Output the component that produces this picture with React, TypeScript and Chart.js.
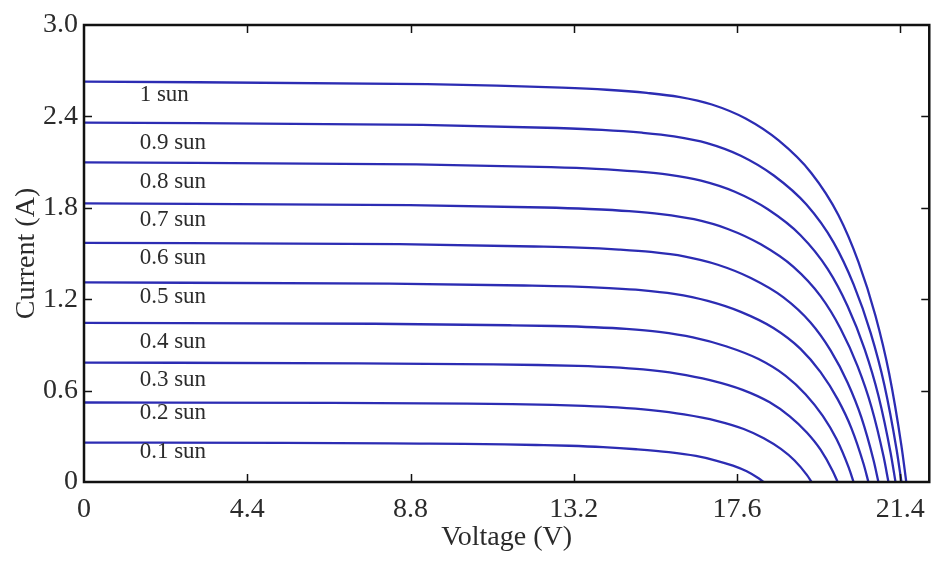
import React, { useEffect, useRef } from "react";
import { Chart, registerables } from "chart.js";

Chart.register(...registerables);

// Tick values / labels (the last voltage tick sits at 22.0 but is printed "21.4" in the original)
const xTickValues = [0, 4.4, 8.8, 13.2, 17.6, 22.0];
const xTickLabels = ["0", "4.4", "8.8", "13.2", "17.6", "21.4"];
const yTickValues = [0, 0.6, 1.2, 1.8, 2.4, 3.0];
const yTickLabels = ["0", "0.6", "1.2", "1.8", "2.4", "3.0"];

// Curve labels
const sunLabels = ["1 sun", "0.9 sun", "0.8 sun", "0.7 sun", "0.6 sun", "0.5 sun", "0.4 sun", "0.3 sun", "0.2 sun", "0.1 sun"];
const labelCurrents = [2.54, 2.225, 1.969, 1.719, 1.47, 1.213, 0.918, 0.668, 0.451, 0.195];
const labelVoltage = 1.5;

// I-V curves: [voltage (V), current (A)]
const sun10 = [[0, 2.628], [9.25, 2.612], [12.88, 2.589], [14.09, 2.575], [15.17, 2.554], [16.03, 2.528], [16.92, 2.478], [17.83, 2.386], [18.72, 2.242], [19.6, 2.029], [20.33, 1.753], [20.87, 1.445], [21.33, 1.091], [21.7, 0.71], [22.03, 0.237], [22.16, 0]];
const sun09 = [[0, 2.359], [9.12, 2.345], [12.75, 2.324], [13.96, 2.312], [15.04, 2.293], [15.9, 2.269], [16.79, 2.225], [17.7, 2.142], [18.59, 2.012], [19.47, 1.821], [20.2, 1.573], [20.74, 1.297], [21.2, 0.979], [21.57, 0.637], [21.9, 0.212], [22.03, 0]];
const sun08 = [[0, 2.098], [8.96, 2.085], [12.59, 2.067], [13.8, 2.056], [14.88, 2.039], [15.74, 2.018], [16.63, 1.978], [17.54, 1.905], [18.43, 1.79], [19.31, 1.62], [20.04, 1.399], [20.58, 1.154], [21.04, 0.871], [21.41, 0.566], [21.74, 0.189], [21.87, 0]];
const sun07 = [[0, 1.829], [8.77, 1.818], [12.4, 1.802], [13.61, 1.792], [14.69, 1.778], [15.55, 1.759], [16.44, 1.725], [17.35, 1.661], [18.24, 1.56], [19.12, 1.412], [19.85, 1.22], [20.39, 1.006], [20.85, 0.759], [21.22, 0.494], [21.55, 0.165], [21.68, 0]];
const sun06 = [[0, 1.57], [8.5, 1.561], [12.13, 1.546], [13.34, 1.539], [14.42, 1.526], [15.28, 1.51], [16.17, 1.481], [17.08, 1.426], [17.97, 1.339], [18.85, 1.212], [19.58, 1.047], [20.12, 0.864], [20.58, 0.652], [20.95, 0.424], [21.28, 0.141], [21.41, 0]];
const sun05 = [[0, 1.31], [8.23, 1.302], [11.86, 1.29], [13.07, 1.284], [14.15, 1.273], [15.01, 1.26], [15.9, 1.235], [16.81, 1.189], [17.7, 1.117], [18.58, 1.011], [19.31, 0.874], [19.85, 0.721], [20.31, 0.544], [20.68, 0.354], [21.01, 0.118], [21.14, 0]];
const sun04 = [[0, 1.045], [7.83, 1.039], [11.46, 1.029], [12.67, 1.024], [13.75, 1.016], [14.61, 1.005], [15.5, 0.985], [16.41, 0.949], [17.3, 0.891], [18.18, 0.807], [18.91, 0.697], [19.45, 0.575], [19.91, 0.434], [20.28, 0.282], [20.61, 0.094], [20.74, 0]];
const sun03 = [[0, 0.784], [7.4, 0.779], [11.03, 0.772], [12.24, 0.768], [13.32, 0.762], [14.18, 0.754], [15.07, 0.739], [15.98, 0.712], [16.87, 0.669], [17.75, 0.605], [18.48, 0.523], [19.02, 0.431], [19.48, 0.325], [19.85, 0.212], [20.18, 0.071], [20.31, 0]];
const sun02 = [[0, 0.522], [6.7, 0.519], [10.33, 0.514], [11.54, 0.511], [12.62, 0.506], [13.48, 0.5], [14.37, 0.49], [15.28, 0.472], [16.17, 0.444], [17.05, 0.402], [17.78, 0.348], [18.32, 0.287], [18.78, 0.217], [19.15, 0.141], [19.48, 0.047], [19.61, 0]];
const sun01 = [[0, 0.259], [5.41, 0.257], [9.04, 0.252], [10.25, 0.25], [11.33, 0.247], [12.19, 0.243], [13.08, 0.238], [13.99, 0.229], [14.88, 0.215], [15.76, 0.196], [16.49, 0.171], [17.03, 0.141], [17.49, 0.107], [17.86, 0.07], [18.19, 0.023], [18.32, 0]];

const curves = [sun10, sun09, sun08, sun07, sun06, sun05, sun04, sun03, sun02, sun01];

const LINE_COLOR = "#2c2cb3";
const TEXT_COLOR = "#2b2b2b";
const FONT = '"Liberation Serif", "Times New Roman", serif';

const framePlugin = {
  id: "frameAndLabels",
  afterDatasetsDraw(chart: any) {
    const { ctx, chartArea } = chart;
    const xs = chart.scales.x;
    const ys = chart.scales.y;
    const { left, right, top, bottom } = chartArea;
    ctx.save();
    // curve labels
    ctx.font = `23px ${FONT}`;
    ctx.fillStyle = TEXT_COLOR;
    ctx.textAlign = "left";
    ctx.textBaseline = "middle";
    sunLabels.forEach((t, i) => {
      ctx.fillText(t, xs.getPixelForValue(labelVoltage), ys.getPixelForValue(labelCurrents[i]));
    });
    // inward ticks
    ctx.strokeStyle = "#111";
    ctx.lineWidth = 1.5;
    const tl = 8;
    ctx.beginPath();
    xs.ticks.forEach((t: any) => {
      if (t.value <= xs.min || t.value >= xs.max) return;
      const px = Math.round(xs.getPixelForValue(t.value)) + 0.5;
      ctx.moveTo(px, bottom);
      ctx.lineTo(px, bottom - tl);
      ctx.moveTo(px, top);
      ctx.lineTo(px, top + tl);
    });
    ys.ticks.forEach((t: any) => {
      if (t.value <= ys.min || t.value >= ys.max) return;
      const py = Math.round(ys.getPixelForValue(t.value)) + 0.5;
      ctx.moveTo(left, py);
      ctx.lineTo(left + tl, py);
      ctx.moveTo(right, py);
      ctx.lineTo(right - tl, py);
    });
    ctx.stroke();
    // frame
    ctx.strokeStyle = "#111";
    ctx.lineWidth = 2.5;
    ctx.strokeRect(left, top, right - left, bottom - top);
    ctx.restore();
  },
};

export default function App() {
  const ref = useRef<HTMLCanvasElement | null>(null);

  useEffect(() => {
    if (!ref.current) return;
    const chart = new Chart(ref.current, {
      type: "line",
      data: {
        datasets: curves.map((c, i) => ({
          label: sunLabels[i],
          data: c.map(([v, a]) => ({ x: v, y: a })),
          borderColor: LINE_COLOR,
          borderWidth: 2.3,
          pointRadius: 0,
          fill: false,
          cubicInterpolationMode: "monotone" as const,
        })),
      },
      options: {
        animation: false,
        responsive: false,
        devicePixelRatio: 1,
        layout: { padding: { top: 25, right: 5, left: 0, bottom: 0 } },
        plugins: { legend: { display: false }, tooltip: { enabled: false } },
        scales: {
          x: {
            type: "linear",
            min: 0,
            max: 22.78,
            afterBuildTicks: (s: any) => {
              s.ticks = xTickValues.map((v) => ({ value: v }));
            },
            afterFit: (s: any) => {
              s.height = 88;
            },
            ticks: {
              autoSkip: false,
              maxRotation: 0,
              padding: 11,
              color: TEXT_COLOR,
              font: { family: FONT, size: 28 },
              callback: (v: any) => xTickLabels[xTickValues.indexOf(Number(v))],
            },
            grid: { display: false, drawTicks: false },
            border: { display: false },
            title: {
              display: true,
              text: "Voltage (V)",
              color: TEXT_COLOR,
              font: { family: FONT, size: 28 },
              padding: { top: 0, bottom: 16 },
            },
          },
          y: {
            type: "linear",
            min: 0,
            max: 3,
            afterBuildTicks: (s: any) => {
              s.ticks = yTickValues.map((v) => ({ value: v }));
            },
            afterFit: (s: any) => {
              s.width = 84;
            },
            ticks: {
              autoSkip: false,
              padding: 6,
              color: TEXT_COLOR,
              font: { family: FONT, size: 28 },
              callback: (v: any) => yTickLabels[yTickValues.indexOf(Number(v))],
            },
            grid: { display: false, drawTicks: false },
            border: { display: false },
            title: {
              display: true,
              text: "Current (A)",
              color: TEXT_COLOR,
              font: { family: FONT, size: 28 },
              padding: { top: 10, bottom: 0 },
            },
          },
        },
      },
      plugins: [framePlugin],
    });
    return () => chart.destroy();
  }, []);

  return (
    <div style={{ position: "fixed", left: 0, top: 0, width: 936, height: 570, background: "#fff" }}>
      <canvas ref={ref} width={936} height={570} />
    </div>
  );
}
